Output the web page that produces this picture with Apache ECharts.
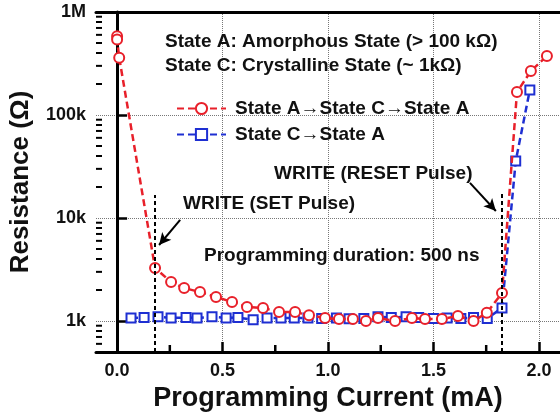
<!DOCTYPE html>
<html>
<head>
<meta charset="utf-8">
<script src="https://cdn.jsdelivr.net/npm/echarts@6/dist/echarts.min.js"></script>
<style>
html, body { margin: 0; padding: 0; background: #fff; }
#main { width: 560px; height: 417px; }
</style>
</head>
<body>
<div id="main"></div>
<script>
// red: State A -> State C -> State A
var redX = [0.0, 0.0, 0.01, 0.18, 0.256, 0.318, 0.393, 0.469, 0.545, 0.616, 0.692, 0.768, 0.844, 0.91, 0.986,
    1.052, 1.118, 1.18, 1.237, 1.318, 1.398, 1.46, 1.54, 1.616, 1.69, 1.753, 1.825, 1.896, 1.962, 2.038];
var redY = [580000, 540000, 360000, 3270, 2390, 2090, 1910, 1710, 1530, 1370, 1340, 1220, 1220, 1140, 1070,
    1045, 1045, 1000, 1070, 1000, 1070, 1045, 1045, 1120, 1000, 1200, 1870, 167000, 267000, 374000];
// blue: State C -> State A
var blueX = [0.066, 0.128, 0.194, 0.256, 0.327, 0.379, 0.45, 0.517, 0.573, 0.645, 0.711, 0.777, 0.84, 0.905,
    0.97, 1.04, 1.1, 1.17, 1.237, 1.3, 1.37, 1.43, 1.5, 1.565, 1.63, 1.69, 1.755, 1.825, 1.89, 1.957];
var blueY = [1070, 1080, 1100, 1070, 1080, 1070, 1100, 1070, 1080, 1030, 1070, 1070, 1070, 1070,
    1060, 1070, 1050, 1060, 1100, 1080, 1100, 1080, 1060, 1070, 1060, 1080, 1060, 1340, 35700, 175000];

var xTicks = [0, 0.5, 1, 1.5, 2];
var xTickLabels = ['0.0', '0.5', '1.0', '1.5', '2.0'];
var xMinorTicks = [0.25, 0.75, 1.25, 1.75];
var yTicks = [1000, 10000, 100000, 1000000];
var yTickLabels = ['1k', '10k', '100k', '1M'];
var yMinorTicks = [600, 700, 800, 900, 2000, 3000, 4000, 5000, 6000, 7000, 8000, 9000,
    20000, 30000, 40000, 50000, 60000, 70000, 80000, 90000,
    200000, 300000, 400000, 500000, 600000, 700000, 800000, 900000];

var xMin = -0.1, xMax = 2.1, yMin = 500, yMax = 1000000;

// annotation positions (data space)
var setLine = [[0.18, 500], [0.18, 16700]];
var resetLine = [[1.825, 500], [1.825, 17500]];
var setArrow = [[0.299, 9570], [0.199, 5470]];
var resetArrow = [[1.673, 21900], [1.796, 11700]];

var nameRed = 'State A\u2192State C\u2192State A';
var nameBlue = 'State C\u2192State A';

var FONT = 'Liberation Sans, Arial, sans-serif';
var RED = '#e8202a';
var BLUE = '#1e2fd2';
var INK = '#111';

var chart = echarts.init(document.getElementById('main'));

function pairs(xs, ys) {
    return xs.map(function (x, i) { return [x, ys[i]]; });
}

function annotText(txt, x, y) {
    return {
        type: 'text', x: x, y: y, z: 100,
        style: { text: txt, fill: INK, font: 'bold 19px ' + FONT, verticalAlign: 'middle' }
    };
}

var option = {
    animation: false,
    backgroundColor: '#fff',
    grid: { left: 96, right: 0, top: 12, bottom: 65, containLabel: false },
    legend: {
        data: [nameRed, nameBlue],
        orient: 'vertical',
        left: 171, top: 94,
        itemWidth: 49, itemHeight: 14, itemGap: 7,
        textStyle: { color: INK, fontFamily: FONT, fontWeight: 'bold', fontSize: 19, padding: [0, 0, 0, 4] }
    },
    xAxis: [{
        type: 'value', min: xMin, max: xMax,
        name: 'Programming Current (mA)', nameLocation: 'middle', nameGap: 28,
        nameTextStyle: { color: INK, fontFamily: FONT, fontWeight: 'bold', fontSize: 27 },
        axisLine: { lineStyle: { color: '#000', width: 3 } },
        axisTick: { inside: true, length: 10, customValues: xTicks, lineStyle: { color: '#000', width: 2.5 } },
        axisLabel: {
            customValues: xTicks, margin: 10,
            color: INK, fontFamily: FONT, fontWeight: 'bold', fontSize: 18,
            formatter: function (v) {
                var i = xTicks.indexOf(Math.round(v * 100) / 100);
                return i < 0 ? '' : xTickLabels[i];
            }
        },
        splitLine: { show: true, lineStyle: { color: '#777', type: 'dotted', width: 1 } }
    }, {
        type: 'value', min: xMin, max: xMax, position: 'top',
        axisLine: { lineStyle: { color: '#000', width: 3 } },
        axisTick: { show: false }, axisLabel: { show: false }, splitLine: { show: false }
    }],
    yAxis: {
        type: 'log', logBase: 10, min: yMin, max: yMax,
        name: 'Resistance (\u03A9)', nameLocation: 'middle', nameGap: 62,
        nameTextStyle: { color: INK, fontFamily: FONT, fontWeight: 'bold', fontSize: 26 },
        axisLine: { lineStyle: { color: '#000', width: 3 } },
        axisTick: { inside: true, length: 10, lineStyle: { color: '#000', width: 2.5 } },
        axisLabel: {
            margin: 10, color: INK, fontFamily: FONT, fontWeight: 'bold', fontSize: 18,
            formatter: function (v) {
                for (var i = 0; i < yTicks.length; i++) {
                    if (Math.abs(Math.log10(v) - Math.log10(yTicks[i])) < 1e-6) return yTickLabels[i];
                }
                return '';
            }
        },
        splitLine: { show: true, lineStyle: { color: '#777', type: 'dotted', width: 1 } }
    },
    graphic: [
        annotText('State A: Amorphous State (> 100 k\u03A9)', 165, 42),
        annotText('State C: Crystalline State (~ 1k\u03A9)', 165, 66),
        annotText('WRITE (RESET Pulse)', 274, 174),
        annotText('WRITE (SET Pulse)', 183, 204),
        annotText('Programming duration: 500 ns', 204, 256)
    ],
    series: [{
        name: nameRed, type: 'line', data: pairs(redX, redY), z: 3,
        symbol: 'emptyCircle', symbolSize: 10,
        itemStyle: { color: RED, borderWidth: 2.2 },
        lineStyle: { color: RED, width: 2.5, type: [7, 4] },
        markLine: {
            silent: true, animation: false,
            label: { show: false },
            lineStyle: { color: '#000', width: 2, type: [4, 3] },
            symbol: ['none', 'none'],
            data: [
                [{ coord: setLine[0] }, { coord: setLine[1] }],
                [{ coord: resetLine[0] }, { coord: resetLine[1] }],
                [{ coord: setArrow[0], symbol: 'none', lineStyle: { type: 'solid', width: 2 } },
                 { coord: setArrow[1], symbol: 'arrow', symbolSize: [9, 12] }],
                [{ coord: resetArrow[0], symbol: 'none', lineStyle: { type: 'solid', width: 2 } },
                 { coord: resetArrow[1], symbol: 'arrow', symbolSize: [9, 12] }]
            ]
        }
    }, {
        name: nameBlue, type: 'line', data: pairs(blueX, blueY), z: 2,
        symbol: 'emptyRect', symbolSize: 9,
        itemStyle: { color: BLUE, borderWidth: 2 },
        lineStyle: { color: BLUE, width: 2.5, type: [7, 4] }
    }, {
        name: 'yMinor', type: 'custom', silent: true, clip: false, z: 5,
        data: yMinorTicks.map(function (v) { return [xMin, v]; }),
        renderItem: function (params, api) {
            var p = api.coord([api.value(0), api.value(1)]);
            return { type: 'line', shape: { x1: p[0], y1: p[1], x2: p[0] + 6, y2: p[1] },
                style: { stroke: '#000', lineWidth: 2 } };
        }
    }, {
        name: 'xMinor', type: 'custom', silent: true, clip: false, z: 5,
        data: xMinorTicks.map(function (v) { return [v, yMin]; }),
        renderItem: function (params, api) {
            var p = api.coord([api.value(0), api.value(1)]);
            return { type: 'line', shape: { x1: p[0], y1: p[1], x2: p[0], y2: p[1] - 7 },
                style: { stroke: '#000', lineWidth: 2.5 } };
        }
    }]
};
option && chart.setOption(option);
</script>
</body>
</html>
